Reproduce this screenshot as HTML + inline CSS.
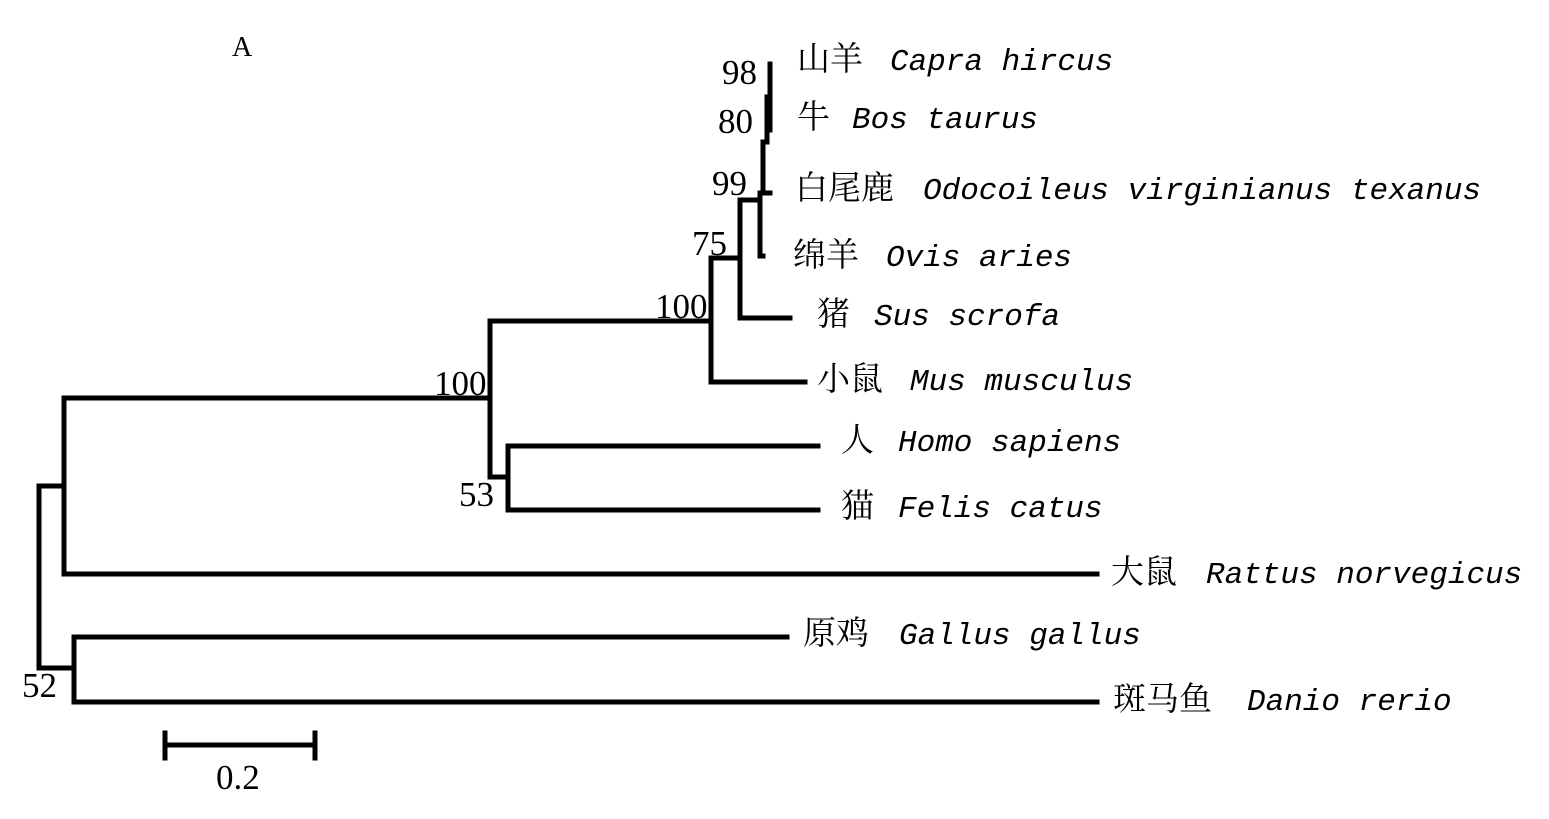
<!DOCTYPE html>
<html><head><meta charset="utf-8"><style>
html,body{margin:0;padding:0;background:#fff;}
svg{display:block;}
.n{font-family:"Liberation Serif",serif;font-size:35px;}
.l{font-size:31px;}
.c{font-family:"Noto Serif CJK SC","Noto Sans CJK SC",serif;font-size:33px;}
.i{font-family:"Liberation Mono",monospace;font-style:italic;}
</style></head><body>
<svg width="1549" height="819" viewBox="0 0 1549 819" xmlns="http://www.w3.org/2000/svg">
<g stroke="#000" stroke-width="5" fill="none" stroke-linecap="square">
<path d="M39 486V668M39 486H64M64 398V574M64 398H490M64 574H1097M39 668H74M74 637V702M74 637H787M74 702H1097"/>
<path d="M490 321V477M490 321H711M490 477H508M508 446V510M508 446H818M508 510H818"/>
<path d="M711 258V382M711 382H805M711 258H740M740 200V318M740 318H790M740 200H760"/>
<path d="M760 193V256M760 256H763M760 193H770M763 142V193M763 142H767M767 97V142M767 97H770M770 64V130"/>
<path d="M165 745H315M165 733V758M315 733V758"/>
</g>
<g class="n">
<text x="232" y="56" font-size="28">A</text>
<text x="722" y="84">98</text>
<text x="718" y="133">80</text>
<text x="712" y="195">99</text>
<text x="692" y="255">75</text>
<text x="655" y="318">100</text>
<text x="434" y="395">100</text>
<text x="459" y="506">53</text>
<text x="22" y="697">52</text>
<text x="216" y="789">0.2</text>
</g>
<g class="l">
<text x="797" y="70"><tspan class="c">山羊</tspan><tspan class="i" dx="27">Capra hircus</tspan></text>
<text x="797" y="128"><tspan class="c">牛</tspan><tspan class="i" dx="22">Bos taurus</tspan></text>
<text x="795" y="199"><tspan class="c">白尾鹿</tspan><tspan class="i" dx="29">Odocoileus virginianus texanus</tspan></text>
<text x="793" y="266"><tspan class="c">绵羊</tspan><tspan class="i" dx="27">Ovis aries</tspan></text>
<text x="817" y="325"><tspan class="c">猪</tspan><tspan class="i" dx="24">Sus scrofa</tspan></text>
<text x="817" y="390"><tspan class="c">小鼠</tspan><tspan class="i" dx="27">Mus musculus</tspan></text>
<text x="841" y="451"><tspan class="c">人</tspan><tspan class="i" dx="24">Homo sapiens</tspan></text>
<text x="841" y="517"><tspan class="c">猫</tspan><tspan class="i" dx="24">Felis catus</tspan></text>
<text x="1111" y="583"><tspan class="c">大鼠</tspan><tspan class="i" dx="29">Rattus norvegicus</tspan></text>
<text x="803" y="644"><tspan class="c">原鸡</tspan><tspan class="i" dx="30">Gallus gallus</tspan></text>
<text x="1113" y="710"><tspan class="c">斑马鱼</tspan><tspan class="i" dx="35">Danio rerio</tspan></text>
</g>
</svg>
</body></html>
